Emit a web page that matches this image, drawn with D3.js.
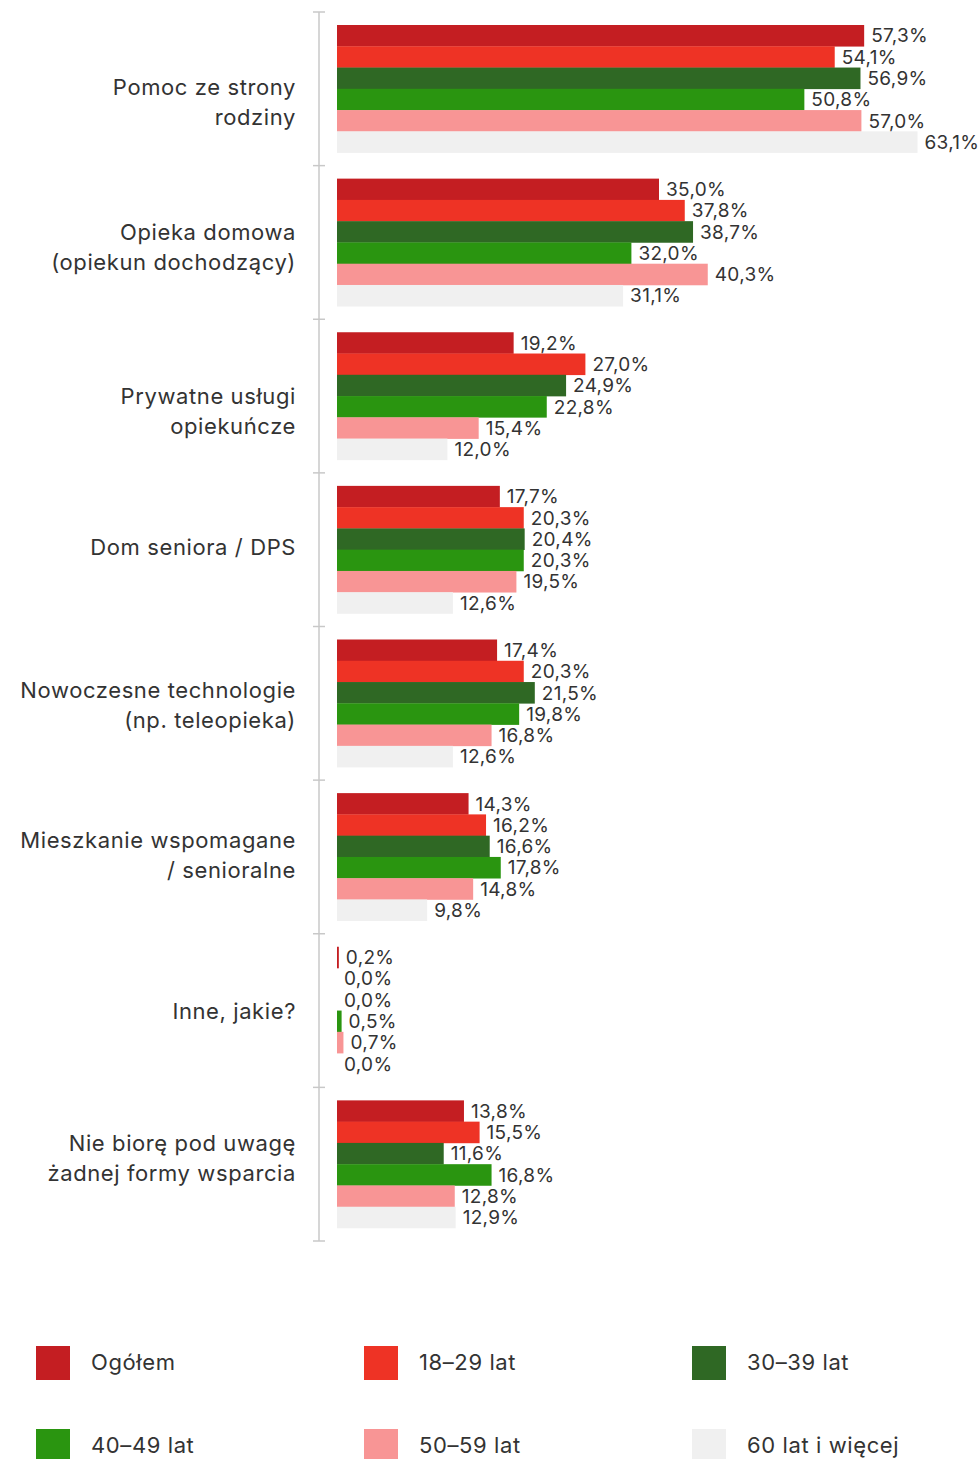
<!DOCTYPE html>
<html>
<head>
<meta charset="utf-8">
<script src="https://cdn.jsdelivr.net/npm/d3@7"></script>
<style>
  body { margin: 0; background: #fff; }
  svg text { font-family: "Inter", "Open Sans", sans-serif; fill: #333; }
</style>
</head>
<body>
<div id="chart"></div>
<script>
const categories = [
  ["Pomoc ze strony", "rodziny"],
  ["Opieka domowa", "(opiekun dochodzący)"],
  ["Prywatne usługi", "opiekuńcze"],
  ["Dom seniora / DPS"],
  ["Nowoczesne technologie", "(np. teleopieka)"],
  ["Mieszkanie wspomagane", "/ senioralne"],
  ["Inne, jakie?"],
  ["Nie biorę pod uwagę", "żadnej formy wsparcia"]
];
const seriesNames = ["Ogółem", "18–29 lat", "30–39 lat", "40–49 lat", "50–59 lat", "60 lat i więcej"];
const seriesColors = ["#c41e22", "#ee3325", "#2f6824", "#2a9510", "#f89595", "#f0f0f0"];

const ogolem = [57.3, 35.0, 19.2, 17.7, 17.4, 14.3, 0.2, 13.8];
const age18 = [54.1, 37.8, 27.0, 20.3, 20.3, 16.2, 0.0, 15.5];
const age30 = [56.9, 38.7, 24.9, 20.4, 21.5, 16.6, 0.0, 11.6];
const age40 = [50.8, 32.0, 22.8, 20.3, 19.8, 17.8, 0.5, 16.8];
const age50 = [57.0, 40.3, 15.4, 19.5, 16.8, 14.8, 0.7, 12.8];
const age60 = [63.1, 31.1, 12.0, 12.6, 12.6, 9.8, 0.0, 12.9];
const series = [ogolem, age18, age30, age40, age50, age60];

const width = 980, height = 1459;
const svg = d3.select("#chart").append("svg")
  .attr("width", width).attr("height", height);

const y0 = d3.scaleBand()
  .domain(d3.range(categories.length))
  .range([12, 1241]);
const y1 = d3.scaleBand()
  .domain(d3.range(series.length))
  .range([13, y0.bandwidth() - 13]);
const x = d3.scaleLinear().domain([0, 100]).range([337, 1257]);

// the source nudges a few wrapped labels off centre
const labelShift = [13, 5, 15, -2, 2, -2, 1, -6];

// axis line + ticks at band boundaries
const axisX = 319;
svg.append("line")
  .attr("x1", axisX).attr("x2", axisX)
  .attr("y1", y0.range()[0]).attr("y2", y0.range()[1])
  .attr("stroke", "#c8c8c8").attr("stroke-width", 1.5);
const boundaries = d3.range(categories.length + 1).map(i => 12 + i * y0.step());
svg.selectAll(".tick").data(boundaries).join("line")
  .attr("class", "tick")
  .attr("x1", axisX - 6).attr("x2", axisX + 6)
  .attr("y1", d => d).attr("y2", d => d)
  .attr("stroke", "#c8c8c8").attr("stroke-width", 1.5);

// category labels
const catG = svg.selectAll(".cat").data(categories).join("text")
  .attr("class", "cat")
  .attr("text-anchor", "end")
  .attr("font-size", 22)
  .attr("letter-spacing", 0.6);
catG.each(function (lines, i) {
  const cy = y0(i) + y0.bandwidth() / 2 + labelShift[i];
  const start = cy - (lines.length - 1) * 15;
  d3.select(this).selectAll("tspan").data(lines).join("tspan")
    .attr("x", 296)
    .attr("y", (d, j) => start + j * 30)
    .attr("dy", "0.35em")
    .text(d => d);
});

// bars
const groups = svg.selectAll(".group").data(categories).join("g")
  .attr("class", "group")
  .attr("transform", (d, i) => `translate(0,${y0(i)})`);

groups.each(function (c, i) {
  const g = d3.select(this);
  const vals = series.map((s, k) => ({ k, v: s[i] }));
  g.selectAll("rect").data(vals).join("rect")
    .attr("x", x(0))
    .attr("y", d => y1(d.k))
    .attr("width", d => x(d.v) - x(0))
    .attr("height", y1.bandwidth() + 0.3)
    .attr("fill", d => seriesColors[d.k]);
  g.selectAll("text").data(vals).join("text")
    .attr("x", d => x(d.v) + 7)
    .attr("y", d => y1(d.k) + y1.bandwidth() / 2)
    .attr("dy", "0.36em")
    .attr("font-size", 19)
    .attr("letter-spacing", 0.3)
    .text(d => d.v.toFixed(1).replace(".", ",") + "%");
});

// legend
const legend = svg.selectAll(".legend").data(seriesNames).join("g")
  .attr("class", "legend")
  .attr("transform", (d, i) => `translate(${36 + (i % 3) * 328},${1346 + Math.floor(i / 3) * 83})`);
legend.append("rect")
  .attr("width", 34).attr("height", 34)
  .attr("fill", (d, i) => seriesColors[i]);
legend.append("text")
  .attr("x", 55).attr("y", 16).attr("dy", "0.35em")
  .attr("font-size", 22)
  .attr("letter-spacing", 0.6)
  .text(d => d);
</script>
</body>
</html>
